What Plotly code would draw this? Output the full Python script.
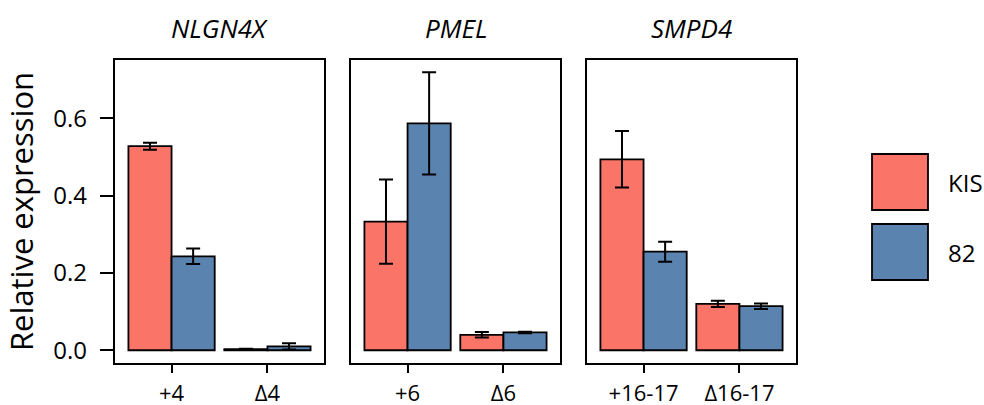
import plotly.graph_objects as go

W, H = 984, 405

genes = ["NLGN4X", "PMEL", "SMPD4"]
categories = [["+4", "Δ4"], ["+6", "Δ6"], ["+16-17", "Δ16-17"]]
series_names = ["KIS", "82"]
kis_values = [[0.528, 0.003], [0.333, 0.040], [0.494, 0.120]]
kis_errors = [[0.009, 0.001], [0.109, 0.007], [0.073, 0.008]]
v82_values = [[0.243, 0.010], [0.587, 0.046], [0.255, 0.114]]
v82_errors = [[0.020, 0.008], [0.132, 0.002], [0.026, 0.007]]
y_ticks = [0.0, 0.2, 0.4, 0.6]

colors = {"KIS": "#FA7468", "82": "#5A83B0"}
FONT = "Open Sans"

# panel pixel boxes
panels_px = [(115, 324), (351, 560), (587, 796)]
top_px, bot_px = 60, 363

fig = go.Figure()

for i in range(3):
    ax = "" if i == 0 else str(i + 1)
    for name, vals, errs in [("KIS", kis_values, kis_errors), ("82", v82_values, v82_errors)]:
        fig.add_trace(go.Bar(
            x=categories[i], y=vals[i], name=name,
            marker=dict(color=colors[name], line=dict(color="black", width=1.8)),
            error_y=dict(type="data", array=errs[i], color="black", thickness=2, width=7),
            xaxis="x" + ax, yaxis="y" + ax, showlegend=False,
        ))
    x0, x1 = panels_px[i]
    fig.update_layout(**{
        "xaxis" + ax: dict(
            domain=[x0 / W, x1 / W], anchor="y" + ax, type="category",
            range=[-0.59, 1.59], showline=True, mirror=True, linecolor="black",
            linewidth=2.2, ticks="outside", ticklen=8, tickwidth=2, tickcolor="black",
            showgrid=False, tickfont=dict(size=22, color="black", family=FONT),
            zeroline=False, automargin=False, ticklabelstandoff=1,
        ),
        "yaxis" + ax: dict(
            domain=[1 - bot_px / H, 1 - top_px / H], anchor="x" + ax,
            range=[-0.033, 0.751], showline=True, mirror=True, linecolor="black",
            linewidth=2.2, showgrid=False, zeroline=False,
            ticks="outside" if i == 0 else "", ticklen=13, tickwidth=2, tickcolor="black",
            tickvals=y_ticks, ticktext=[f"{v:.1f}" for v in y_ticks],
            showticklabels=(i == 0), automargin=False, ticklabelstandoff=8,
            tickfont=dict(size=24, color="black", family=FONT),
        ),
    })
    fig.add_annotation(
        x=(x0 + x1) / 2 / W, y=1 - 28 / H, xref="paper", yref="paper",
        xanchor="center", yanchor="middle",
        text=f"<i>{genes[i]}</i>", showarrow=False,
        font=dict(size=26, color="black", family=FONT),
    )

fig.update_layout(yaxis_title=dict(text="Relative expression", font=dict(size=31, color="black", family=FONT), standoff=16))

# legend drawn as boxes + labels
leg = [("KIS", 154, 210), ("82", 224, 280)]
for name, y0, y1 in leg:
    fig.add_shape(type="rect", xref="paper", yref="paper",
                  x0=872 / W, x1=928 / W, y0=1 - y1 / H, y1=1 - y0 / H,
                  fillcolor=colors[name], line=dict(color="black", width=1.8))
    fig.add_annotation(x=946 / W, y=1 - (y0 + y1) / 2 / H, xref="paper", yref="paper",
                       text=name, showarrow=False, xanchor="left", yanchor="middle",
                       font=dict(size=24, color="black", family=FONT))

fig.update_layout(
    width=W, height=H, margin=dict(l=0, r=0, t=0, b=0, autoexpand=False),
    paper_bgcolor="white", plot_bgcolor="white",
    barmode="group", bargap=0.1, bargroupgap=0,
)

fig.write_html("out.html", config={"displayModeBar": False},
               post_script="document.body.style.margin='0';document.body.style.overflow='hidden';")
